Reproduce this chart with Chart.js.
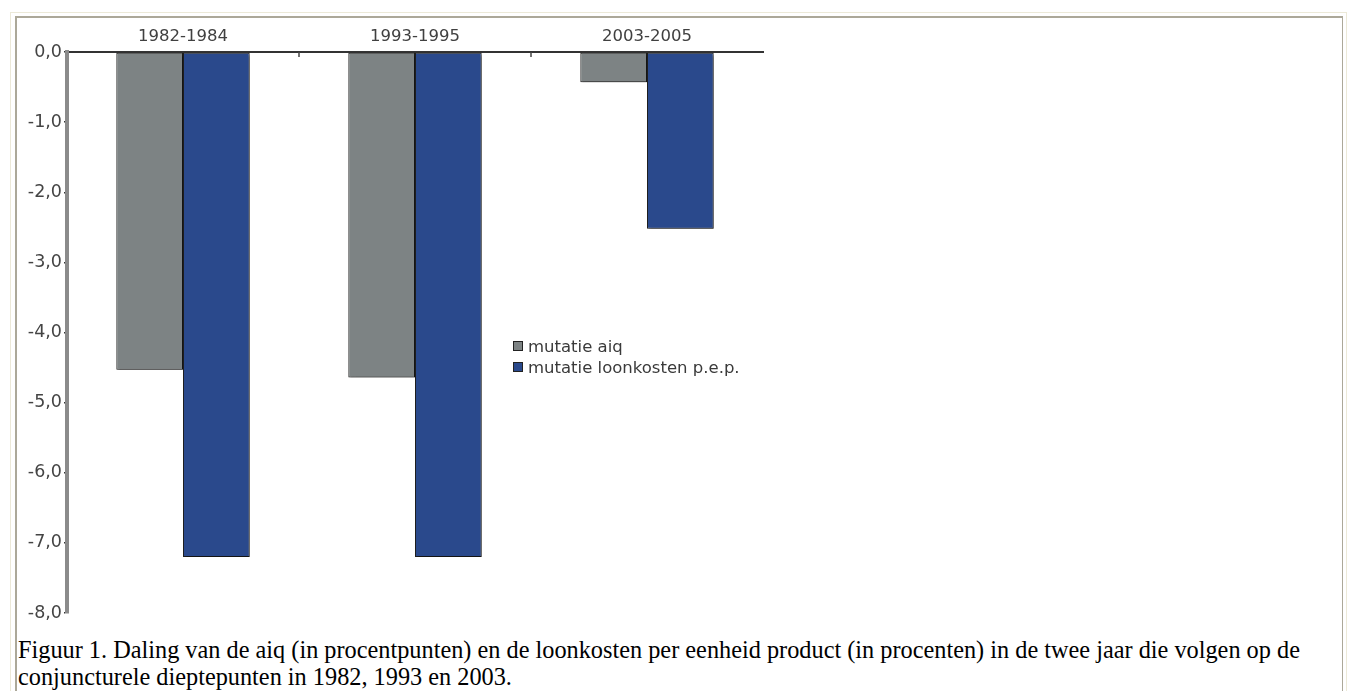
<!DOCTYPE html>
<html>
<head>
<meta charset="utf-8">
<script src="https://cdn.jsdelivr.net/npm/chart.js@4.4.1/dist/chart.umd.min.js"></script>
<style>
  html, body { margin:0; padding:0; background:#fff; width:1348px; height:691px; overflow:hidden; }
  #outer { position:absolute; left:10px; top:12px; width:1335px; height:720px; border:1px solid #ece9d8; }
  #inner { position:absolute; left:15px; top:16px; width:1325px; height:720px;
           border-top:2px solid #aca899; border-left:2px solid #aca899; border-right:1px solid #aca899; }
  #wrap { position:absolute; left:16px; top:17px; width:760px; height:610px; }
  #legend { position:absolute; left:513px; top:336px; font-family:"DejaVu Sans", sans-serif; font-size:16.5px; color:#3a3a3a; }
  #legend div { height:21px; line-height:21px; white-space:nowrap; }
  #legend span.box { display:inline-block; width:8px; height:8px; border:1px solid #222; margin-right:5px; vertical-align:1px; }
  #caption { position:absolute; left:18px; top:636px; width:1320px; font-family:"Liberation Serif", "Times New Roman", serif;
             font-size:24.3px; line-height:27px; color:#000; }
</style>
</head>
<body>
<div id="outer"></div>
<div id="inner"></div>
<div id="wrap"><canvas id="chart"></canvas></div>
<div id="legend"></div>
<div id="caption">Figuur 1. Daling van de aiq (in procentpunten) en de loonkosten per eenheid product (in procenten) in de twee jaar die volgen op de conjuncturele dieptepunten in 1982, 1993 en 2003.</div>
<script>
// categories + values
var categories = ['1982-1984', '1993-1995', '2003-2005'];
var mutatieAiq = [-4.53, -4.64, -0.43];
var mutatieLoonkosten = [-7.2, -7.2, -2.52];
var seriesNames = ['mutatie aiq', 'mutatie loonkosten p.e.p.'];
var seriesColors = ['#7d8384', '#2a498c'];
var yMin = -8, yMax = 0, yStep = 1;

// small marks pointing down from the zero line between the groups
var groupTicks = {
  id: 'groupTicks',
  afterDraw: function(chart) {
    var x = chart.scales.x, ctx = chart.ctx, y0 = chart.chartArea.top;
    ctx.save();
    ctx.strokeStyle = '#444';
    ctx.lineWidth = 1.5;
    for (var i = 1; i < categories.length; i++) {
      var px = (x.getPixelForValue(i - 1) + x.getPixelForValue(i)) / 2;
      ctx.beginPath();
      ctx.moveTo(px, y0);
      ctx.lineTo(px, y0 + 5);
      ctx.stroke();
    }
    ctx.restore();
  }
};

// soft shadow under the bars
var barShadow = {
  id: 'barShadow',
  beforeDatasetsDraw: function(chart) {
    var ctx = chart.ctx;
    ctx.save();
    ctx.shadowColor = 'rgba(0,0,0,0.35)';
    ctx.shadowOffsetX = 2;
    ctx.shadowOffsetY = 2;
    ctx.shadowBlur = 2;
  },
  afterDatasetsDraw: function(chart) {
    chart.ctx.restore();
  }
};

var data = {
  labels: categories,
  datasets: [
    { label: seriesNames[0], data: mutatieAiq, backgroundColor: seriesColors[0] },
    { label: seriesNames[1], data: mutatieLoonkosten, backgroundColor: seriesColors[1] }
  ]
};
data.datasets.forEach(function(ds) {
  ds.borderColor = '#1e1e1e';
  ds.borderWidth = 1;
  ds.borderSkipped = false;
  ds.categoryPercentage = 0.575;
  ds.barPercentage = 1.0;
});

var chart = new Chart(document.getElementById('chart'), {
  type: 'bar',
  data: data,
  plugins: [barShadow, groupTicks],
  options: {
    responsive: true,
    maintainAspectRatio: false,
    animation: false,
    layout: { padding: { top: 0, right: 13, bottom: 14, left: 0 } },
    plugins: { legend: { display: false }, tooltip: { enabled: false } },
    scales: {
      x: {
        position: 'top',
        grid: { display: false, drawTicks: false },
        border: { display: true, color: '#333', width: 2 },
        ticks: { color: '#404040', padding: 5, font: { family: 'DejaVu Sans', size: 16.5 } },
        afterFit: function(s) { s.height = 35; }
      },
      y: {
        min: yMin,
        max: yMax,
        grid: { drawOnChartArea: false, drawTicks: true, tickLength: 3, color: '#333', lineWidth: 1.5 },
        border: { display: true, color: '#8b8b8b', width: 4 },
        ticks: {
          stepSize: yStep,
          color: '#444',
          padding: 2,
          font: { family: 'DejaVu Sans', size: 17.5 },
          callback: function(v) { return (v === 0 ? 0 : v).toFixed(1).replace('.', ','); }
        },
        afterFit: function(s) { s.width = 51; }
      }
    }
  }
});

// legend from the datasets
var leg = document.getElementById('legend');
chart.data.datasets.forEach(function(ds) {
  var row = document.createElement('div');
  row.innerHTML = '<span class="box" style="background:' + ds.backgroundColor + '"></span>' + ds.label;
  leg.appendChild(row);
});
</script>
</body>
</html>
